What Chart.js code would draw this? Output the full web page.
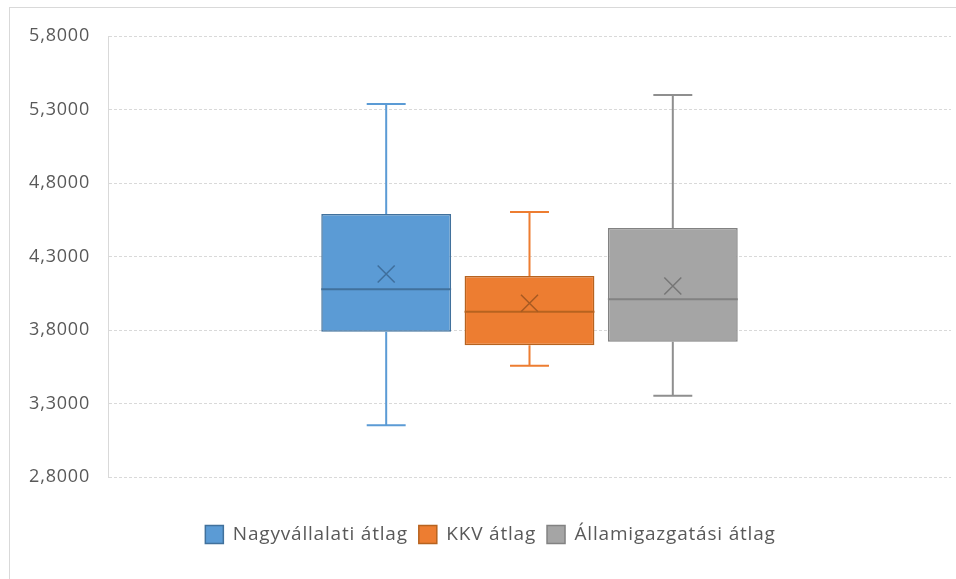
<!DOCTYPE html>
<html>
<head>
<meta charset="utf-8">
<script src="https://cdn.jsdelivr.net/npm/chart.js@4"></script>
<style>
  body { margin: 0; background: #fff; }
  #frame { position: absolute; left: 9px; top: 7px; width: 980px; height: 600px;
           border-left: 1px solid #d9d9d9; border-top: 1px solid #d9d9d9; }
  #chart { position: absolute; left: 0; top: 0; }
</style>
</head>
<body>
<div id="frame"></div>
<canvas id="chart" width="956" height="579"></canvas>
<script>
// box plot figures
var seriesNames = ["Nagyvállalati átlag", "KKV átlag", "Államigazgatási átlag"];
var minValues    = [3.152, 3.557, 3.353];
var q1Values     = [3.788, 3.696, 3.720];
var medianValues = [4.077, 3.924, 4.009];
var q3Values     = [4.589, 4.167, 4.494];
var maxValues    = [5.337, 4.603, 5.399];
var meanValues   = [4.181, 3.982, 4.099];

var yMin = 2.8, yMax = 5.8, yStep = 0.5;

var fillColors   = ["#5b9bd5", "#ed7d31", "#a5a5a5"];
var borderColors = ["#41719c", "#b7631f", "#828282"];
var whiskerColors = ["#5b9bd5", "#ed7d31", "#8f8f8f"];
var meanColors   = ["#3f6f9c", "#a65a22", "#767676"];

var fontFamily = "'Open Sans', sans-serif";

// the reference text is drawn wider than Open Sans, so spread the letters a bit
// (canvas resizes reset the context, so set it again before layout and draw)
var wideText = {
  id: 'wideText',
  beforeLayout: function(chart) { chart.ctx.letterSpacing = '0.8px'; },
  beforeDraw: function(chart) { chart.ctx.letterSpacing = '0.8px'; },
  // legend sits a little right of centre in the reference
  afterLayout: function(chart) {
    chart.legend.left += 15;
    chart.legend.right += 15;
  }
};

// whiskers, median and mean are drawn from the bar elements and the y scale
var boxPlotExtras = {
  id: 'boxPlotExtras',
  afterDatasetsDraw: function(chart) {
    var ctx = chart.ctx;
    var y = chart.scales.y;
    chart.data.datasets.forEach(function(ds, i) {
      var bar = chart.getDatasetMeta(i).data[0];
      var cx = bar.x;
      var half = bar.width / 2;
      var cap = bar.width * 0.15;
      ctx.save();
      ctx.lineWidth = 2;
      ctx.strokeStyle = whiskerColors[i];
      ctx.beginPath();
      ctx.moveTo(cx, y.getPixelForValue(q3Values[i]));
      ctx.lineTo(cx, y.getPixelForValue(maxValues[i]));
      ctx.moveTo(cx - cap, y.getPixelForValue(maxValues[i]));
      ctx.lineTo(cx + cap, y.getPixelForValue(maxValues[i]));
      ctx.moveTo(cx, y.getPixelForValue(q1Values[i]));
      ctx.lineTo(cx, y.getPixelForValue(minValues[i]));
      ctx.moveTo(cx - cap, y.getPixelForValue(minValues[i]));
      ctx.lineTo(cx + cap, y.getPixelForValue(minValues[i]));
      ctx.stroke();

      ctx.strokeStyle = borderColors[i];
      ctx.beginPath();
      var my = y.getPixelForValue(medianValues[i]);
      ctx.moveTo(cx - half, my);
      ctx.lineTo(cx + half, my);
      ctx.stroke();

      var ay = y.getPixelForValue(meanValues[i]);
      var s = 8.5;
      ctx.lineWidth = 1.5;
      ctx.strokeStyle = meanColors[i];
      ctx.beginPath();
      ctx.moveTo(cx - s, ay - s);
      ctx.lineTo(cx + s, ay + s);
      ctx.moveTo(cx + s, ay - s);
      ctx.lineTo(cx - s, ay + s);
      ctx.stroke();
      ctx.restore();
    });
  }
};

var datasets = seriesNames.map(function(name, i) {
  return {
    label: name,
    data: [[q1Values[i], q3Values[i]]],
    backgroundColor: fillColors[i],
    borderColor: borderColors[i],
    borderWidth: 1.5,
    borderSkipped: false
  };
});

var ctx = document.getElementById('chart').getContext('2d');
var myChart = new Chart(ctx, {
  type: 'bar',
  data: { labels: [''], datasets: datasets },
  options: {
    responsive: false,
    animation: false,
    categoryPercentage: 0.51,
    barPercentage: 0.906,
    layout: { padding: { top: 36, right: 5, bottom: 25, left: 0 } },
    plugins: {
      legend: {
        position: 'bottom',
        labels: {
          font: { family: fontFamily, size: 19 },
          color: '#595959',
          boxWidth: 18,
          boxHeight: 18,
          padding: 11
        }
      },
      tooltip: { enabled: false }
    },
    scales: {
      x: {
        display: true,
        grid: { display: false },
        border: { display: false },
        ticks: { display: false },
        afterFit: function(scale) { scale.height = 37; }
      },
      y: {
        min: yMin,
        max: yMax,
        afterFit: function(scale) { scale.width = 108; },
        grid: { color: '#d9d9d9', lineWidth: 1, drawTicks: false },
        border: { display: true, color: '#d9d9d9', dash: [3, 2] },
        ticks: {
          stepSize: yStep,
          padding: 18,
          color: '#595959',
          font: { family: fontFamily, size: 18 },
          callback: function(value) { return value.toFixed(4).replace('.', ','); }
        }
      }
    }
  },
  plugins: [wideText, boxPlotExtras]
});
</script>
</body>
</html>
